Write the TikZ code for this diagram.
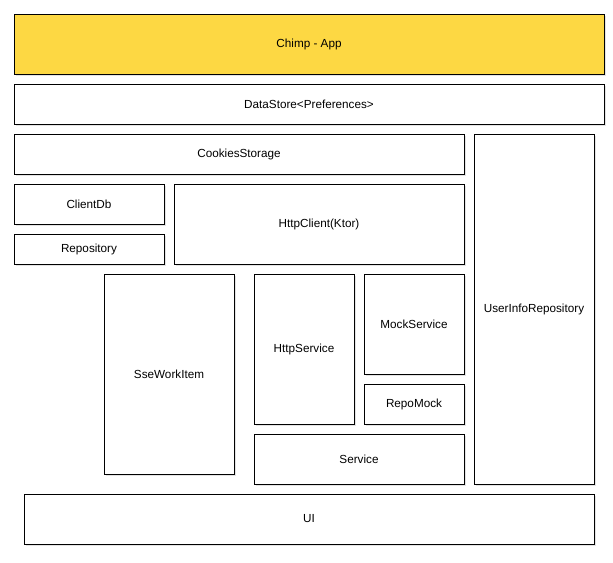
\documentclass[tikz,border=0pt]{standalone}
\usepackage{fontspec}
\setmainfont{Liberation Sans}
\usetikzlibrary{shadows}
\definecolor{appyellow}{HTML}{FDD843}
\tikzset{
  every picture/.style={line width=0.8pt},
  layer/.style={draw=black, fill=white, rectangle, inner sep=0pt,
                font=\fontsize{10}{12}\selectfont,
                drop shadow={opacity=0.22, shadow xshift=2pt, shadow yshift=-2pt}},
  applayer/.style={layer, fill=appyellow},
}

\begin{document}
\begin{tikzpicture}[x=0.03cm, y=-0.03cm]
  \useasboundingbox (0,0) rectangle (613,563);
  % top of the stack
  \node[applayer, minimum width=17.7cm, minimum height=1.8cm] (app) at (309,44) {Chimp - App};
  \node[layer, minimum width=17.7cm, minimum height=1.2cm] (store) at (309,104) {DataStore<Preferences>};
  \node[layer, minimum width=13.5cm, minimum height=1.2cm] (cookies) at (239,154) {CookiesStorage};
  \node[layer, minimum width=3.6cm, minimum height=10.5cm] (userinfo) at (534,309) {UserInfoRepository};
  % storage and network
  \node[layer, minimum width=4.5cm, minimum height=1.2cm] (clientdb) at (89,204) {ClientDb};
  \node[layer, minimum width=4.5cm, minimum height=0.9cm] (repo) at (89,249) {Repository};
  \node[layer, minimum width=8.7cm, minimum height=2.4cm] (httpclient) at (319,224) {HttpClient(Ktor)};
  % services
  \node[layer, minimum width=3.9cm, minimum height=6cm] (sse) at (169,374) {SseWorkItem};
  \node[layer, minimum width=3cm, minimum height=4.5cm] (httpservice) at (304,349) {HttpService};
  \node[layer, minimum width=3cm, minimum height=3cm] (mock) at (414,324) {MockService};
  \node[layer, minimum width=3cm, minimum height=1.2cm] (repomock) at (414,404) {RepoMock};
  \node[layer, minimum width=6.3cm, minimum height=1.5cm] (service) at (359,459) {Service};
  % bottom
  \node[layer, minimum width=17.1cm, minimum height=1.5cm] (ui) at (309,519) {UI};
\end{tikzpicture}
\end{document}
